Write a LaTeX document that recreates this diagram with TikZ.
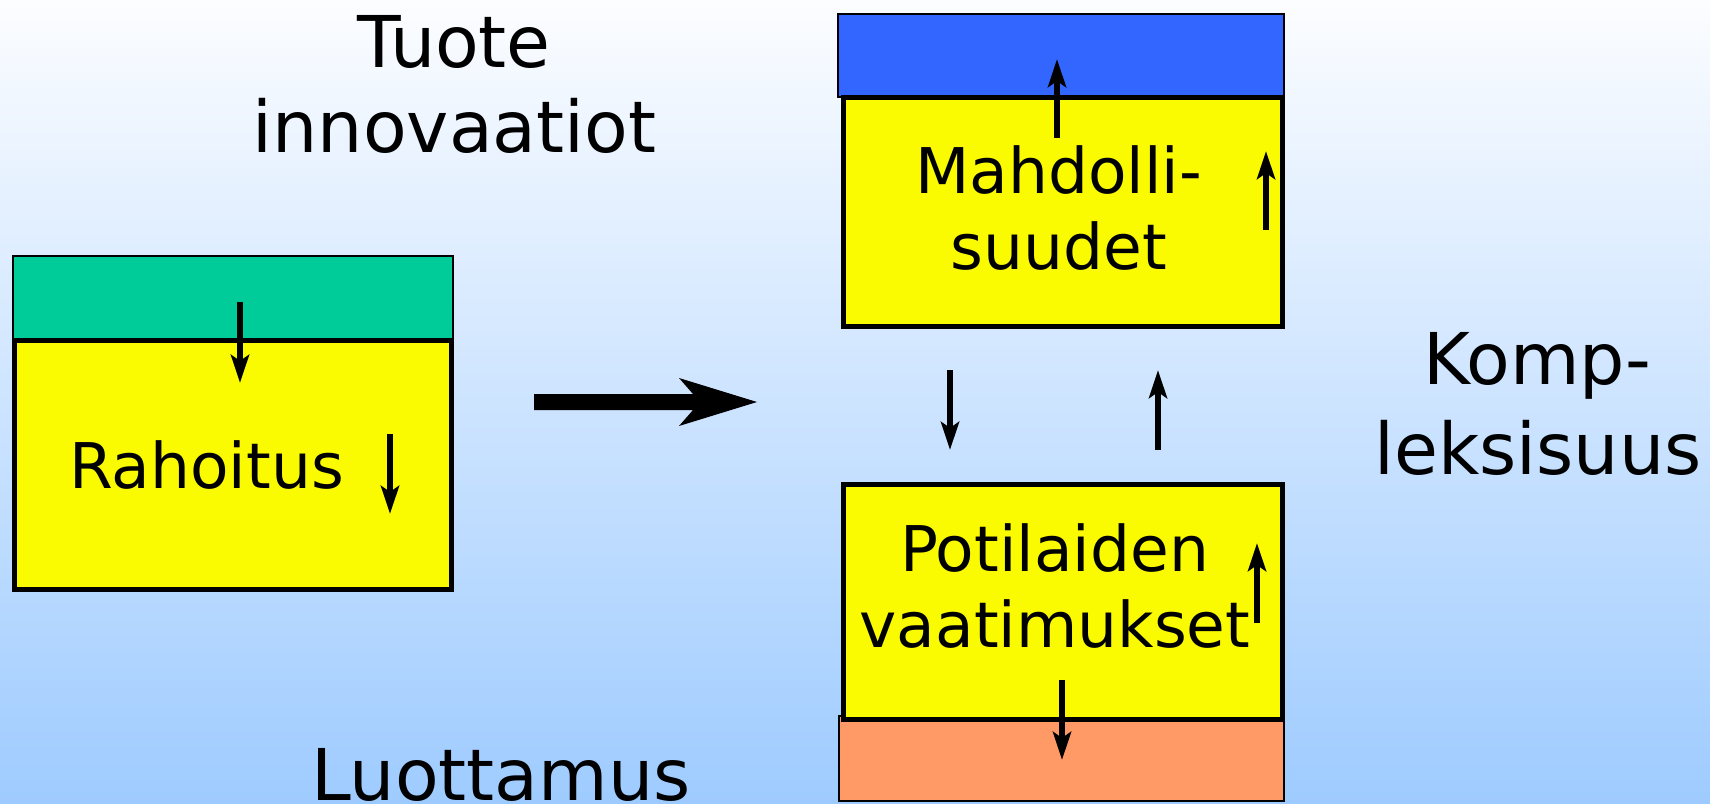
\documentclass[tikz,border=0pt]{standalone}
\usepackage{fontspec}
\setmainfont{DejaVu Sans}
\usetikzlibrary{arrows.meta}
\definecolor{bgtop}{RGB}{252,253,255}
\definecolor{bgbot}{RGB}{158,203,255}
\definecolor{boxyellow}{RGB}{250,250,0}
\definecolor{stripgreen}{RGB}{0,204,153}
\definecolor{stripblue}{RGB}{51,102,255}
\definecolor{striporange}{RGB}{255,153,102}
\tikzset{
  strip/.style={draw=black, line width=0.6pt},
  mainbox/.style={draw=black, fill=boxyellow, line width=2.5pt},
  bigtext/.style={anchor=base, inner sep=0pt, font=\fontsize{35.7}{42.5}\selectfont},
  boxtext/.style={anchor=base, inner sep=0pt, font=\fontsize{31.5}{38}\selectfont},
  flow/.style={line width=2.9pt, -{Stealth[length=14pt,width=9pt,inset=3pt]}}
}
\begin{document}
\begin{tikzpicture}[x=0.5pt,y=-0.5pt]
\useasboundingbox (0,0) rectangle (1710,804);
\shade[top color=bgtop, bottom color=bgbot] (0,0) rectangle (1710,804);

% left group
\fill[stripgreen] (13,256) rectangle (453,340);
\draw[strip] (13,256) rectangle (453,340);
\draw[mainbox] (14,340.5) rectangle (451.5,589);

% upper right group
\fill[stripblue] (838,14) rectangle (1284,97);
\draw[strip] (838,14) rectangle (1284,97);
\draw[mainbox] (843,97) rectangle (1282,326);

% lower right group
\fill[striporange] (839,716) rectangle (1284,801);
\draw[strip] (839,716) rectangle (1284,801);
\draw[mainbox] (843,484) rectangle (1282,719.5);

% big arrow
\fill[black] (534,394) -- (693,394) -- (679,378) -- (757,402) -- (679,426) -- (693,410) -- (534,410) -- cycle;

% texts
\node[bigtext] (tuote) at (454,67) {Tuote};
\node[bigtext] (innov) at (454.5,152) {innovaatiot};
\node[bigtext] (komp) at (1537,384) {Komp-};
\node[bigtext] (leks) at (1538,474) {leksisuus};
\node[bigtext] (luott) at (501,800) {Luottamus};
\node[boxtext] (rah) at (206.5,488) {Rahoitus};
\node[boxtext] (mah) at (1058.5,193) {Mahdolli-};
\node[boxtext] (suu) at (1059,269) {suudet};
\node[boxtext] (pot) at (1054.5,571) {Potilaiden};
\node[boxtext] (vaa) at (1055,647) {vaatimukset};

% small arrows
\coordinate (a1s) at (240,302); \coordinate (a1e) at (240,383);
\coordinate (a2s) at (390,434); \coordinate (a2e) at (390,514);
\coordinate (a3s) at (1057,138); \coordinate (a3e) at (1057,59);
\coordinate (a4s) at (1266,230); \coordinate (a4e) at (1266,151);
\coordinate (a5s) at (950,370); \coordinate (a5e) at (950,450);
\coordinate (a6s) at (1158,450); \coordinate (a6e) at (1158,370);
\coordinate (a7s) at (1257,623); \coordinate (a7e) at (1257,543);
\coordinate (a8s) at (1062,680); \coordinate (a8e) at (1062,760);
\draw[flow] (a1s) -- (a1e);
\draw[flow] (a2s) -- (a2e);
\draw[flow] (a3s) -- (a3e);
\draw[flow] (a4s) -- (a4e);
\draw[flow] (a5s) -- (a5e);
\draw[flow] (a6s) -- (a6e);
\draw[flow] (a7s) -- (a7e);
\draw[flow] (a8s) -- (a8e);
\end{tikzpicture}
\end{document}
